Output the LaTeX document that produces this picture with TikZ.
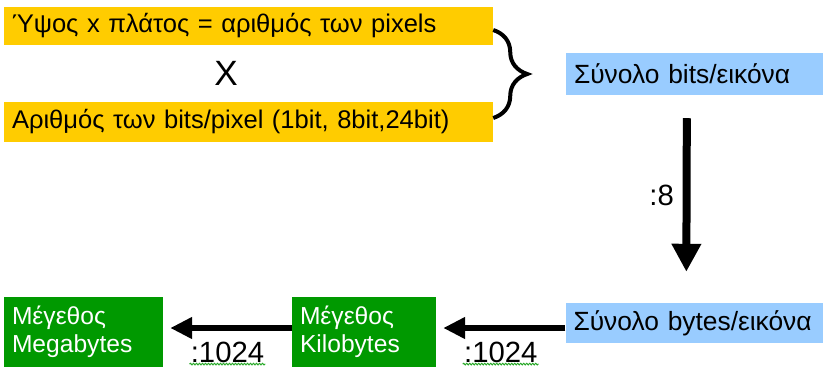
\documentclass[tikz,border=0pt]{standalone}
\usepackage{fontspec}
\setmainfont{Liberation Sans}
\usetikzlibrary{arrows.meta,decorations.pathreplacing,decorations.pathmorphing}

\definecolor{termyellow}{HTML}{FFCC00}
\definecolor{totalblue}{HTML}{99CCFF}
\definecolor{sizegreen}{HTML}{009900}

\tikzset{
  term/.style={rectangle, fill=termyellow, text width=14.19cm, align=left, inner xsep=0.24cm, inner ysep=0pt, font=\fontsize{21.8}{24}\selectfont},
  total/.style={rectangle, fill=totalblue, text width=7.23cm, align=left, inner xsep=0.24cm, inner ysep=0pt, font=\fontsize{22.5}{24}\selectfont},
  measure/.style={rectangle, fill=sizegreen, text=white, align=left, inner xsep=0.24cm, inner ysep=0pt, minimum height=2.1cm, font=\fontsize{21}{24}\selectfont},
  arrow/.style={-{Triangle[length=0.66cm, width=0.62cm]}, line width=0.18cm},
  bigarrow/.style={-{Triangle[length=0.84cm, width=0.84cm]}, line width=0.24cm},
  factor/.style={inner sep=0pt, font=\fontsize{25}{28}\selectfont},
  squiggle/.style={sizegreen!85, line width=0.8pt, decorate, decoration={snake, amplitude=0.025cm, segment length=0.09cm}},
}

\begin{document}
\begin{tikzpicture}
  \useasboundingbox (0,0) rectangle (24.96,-11.07);

  % Upper part: the two factors
  \node[term, minimum height=1.14cm] (pix)  at (7.455,-0.78) {Ύψος x πλάτος = αριθμός των pixels};
  \node[font=\fontsize{30}{34}\selectfont] (times) at (6.78,-2.19) {X};
  \node[term, minimum height=1.2cm]  (bpp)  at (7.455,-3.66) {Αριθμός των bits/pixel (1bit, 8bit,24bit)};

  % Results
  \node[total, minimum height=1.26cm] (bits)  at (20.835,-2.22) {Σύνολο bits/εικόνα};
  \node[total, minimum height=1.2cm]  (bytes) at (20.82,-9.69)  {Σύνολο bytes/εικόνα};
  \node[measure, text width=3.84cm] (kb) at (10.92,-9.96) {Μέγεθος\\Kilobytes};
  \node[measure, text width=4.29cm] (mb) at (2.505,-9.96) {Μέγεθος\\Megabytes};

  % Brace joining both factors
  \draw[line width=0.12cm, decorate, decoration={brace, amplitude=1.02cm}]
    ([yshift=-0.12cm]pix.east) -- ([yshift=0.12cm]bpp.east);

  % bits -> bytes
  \draw[bigarrow] ([xshift=-0.23cm, yshift=-0.69cm]bits.south) --
    node[factor, xshift=-0.75cm] (by8) {:8} ([xshift=-0.23cm, yshift=0.93cm]bytes.north);

  % bytes -> Kilobytes -> Megabytes
  \draw[arrow, shorten >=0.21cm] ([yshift=-0.15cm]bytes.west) --
    node[factor, yshift=-0.72cm] (kdiv) {:1024} ([yshift=-0.15cm]bytes.west -| kb.east);
  \draw[arrow, shorten >=0.21cm] ([yshift=0.12cm]kb.west) --
    node[factor, yshift=-0.72cm] (mdiv) {:1024} ([yshift=0.12cm]kb.west -| mb.east);

  % spelling marks under the divisors
  \draw[squiggle] ([xshift=0.05cm, yshift=-0.06cm]kdiv.base west) -- ([xshift=-0.05cm, yshift=-0.06cm]kdiv.base east);
  \draw[squiggle] ([xshift=0.05cm, yshift=-0.06cm]mdiv.base west) -- ([xshift=-0.05cm, yshift=-0.06cm]mdiv.base east);
\end{tikzpicture}
\end{document}
